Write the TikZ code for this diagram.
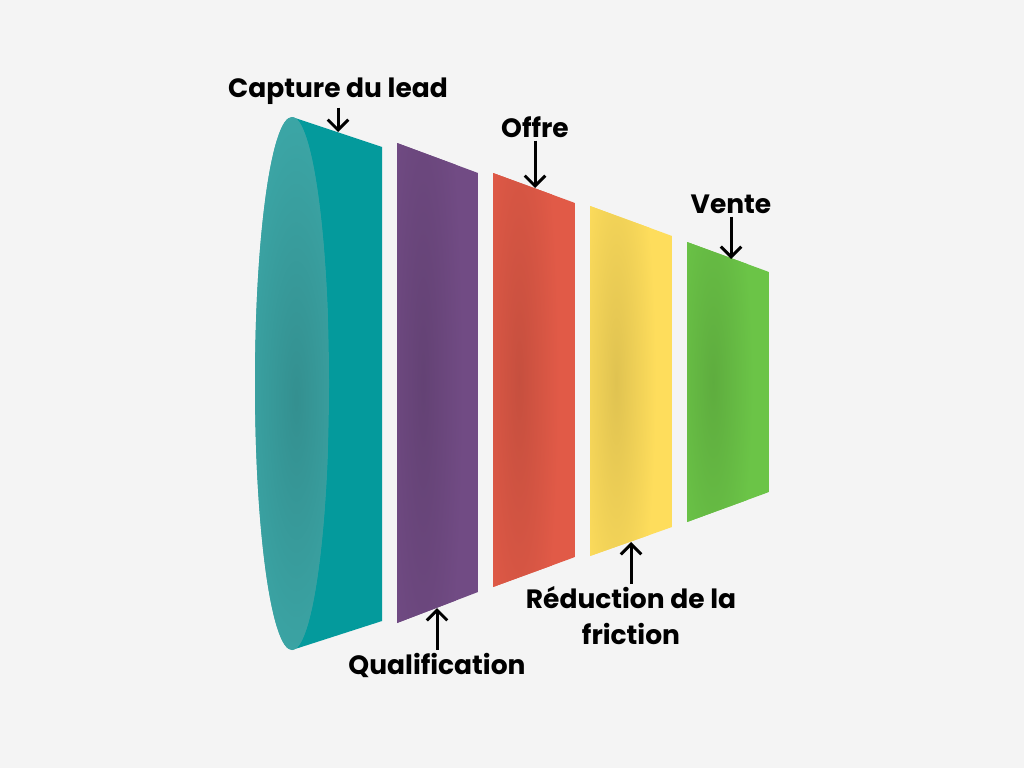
\documentclass[tikz,border=0pt]{standalone}
\usepackage{fontspec}
\setmainfont{Poppins}
\usetikzlibrary{arrows.meta}
\definecolor{bgc}{HTML}{F4F4F4}
\definecolor{tealc}{HTML}{049A9C}
\definecolor{tealface}{HTML}{3CA7A7}
\definecolor{purplec}{HTML}{714B84}
\definecolor{redc}{HTML}{E15A47}
\definecolor{yellowc}{HTML}{FEDD5C}
\definecolor{greenc}{HTML}{6BC447}
\tikzset{
  lbl/.style={font=\fontsize{26.5}{36}\selectfont\bfseries,inner sep=3pt,align=center}, % stage label
  pointer/.style={-{Straight Barb[length=3.6mm,width=7.2mm]},line width=3pt,black},  % label arrow
}
\newcommand{\stage}[7]{% colour, x1, x2, top1, top2, bot2, bot1
  \begin{scope}
    \clip (#2,#4) -- (#3,#5) -- (#3,#6) -- (#2,#7) -- cycle;
    \fill[#1] (#2,#4) rectangle (#3,#7);
    \pgfmathsetmacro\stry{0.8*(#7-#4)}
    \shade[inner color=#1!88!black,outer color=#1] ({#2+26},{(#4+#7)/2}) ellipse (40pt and \stry pt);
  \end{scope}
}

\begin{document}
\begin{tikzpicture}[x=1pt,y=-1pt]
  \fill[bgc] (0,0) rectangle (1024,768);
  % mouth of the funnel
  \fill[tealc] (292,117) -- (382,147) -- (382,621) -- (292,650) -- cycle;
  \begin{scope}
    \clip (292,383.5) ellipse (37pt and 266.5pt);
    \fill[tealface] (255,117) rectangle (329,650);
    \shade[inner color=tealface!86!black,outer color=tealface] (296,400) ellipse (60pt and 300pt);
  \end{scope}
  \stage{purplec}{397}{478}{143}{173}{592}{623}
  \stage{redc}{493}{575}{173}{203}{557}{587}
  \stage{yellowc}{590}{672}{206}{236}{527}{556}
  \stage{greenc}{687}{769}{242}{272}{492}{522}

  % labels
  \node[lbl] (capture) at (338,91) {Capture du lead};
  \node[lbl] (offre) at (535,127) {Offre};
  \node[lbl] (vente) at (731,204) {Vente};
  \node[lbl] (qualif) at (437,665) {Qualification};
  \node[lbl] (friction) at (631,616) {Réduction de la\\friction};

  \coordinate (capture tip) at (338,132);
  \coordinate (offre tip) at (535,188);
  \coordinate (vente tip) at (731,259);
  \coordinate (qualif tip) at (437,608);
  \coordinate (friction tip) at (631,542);
  \foreach \n in {capture,offre,vente,qualif,friction}
    \draw[pointer] (\n) -- (\n\space tip);
\end{tikzpicture}
\end{document}
